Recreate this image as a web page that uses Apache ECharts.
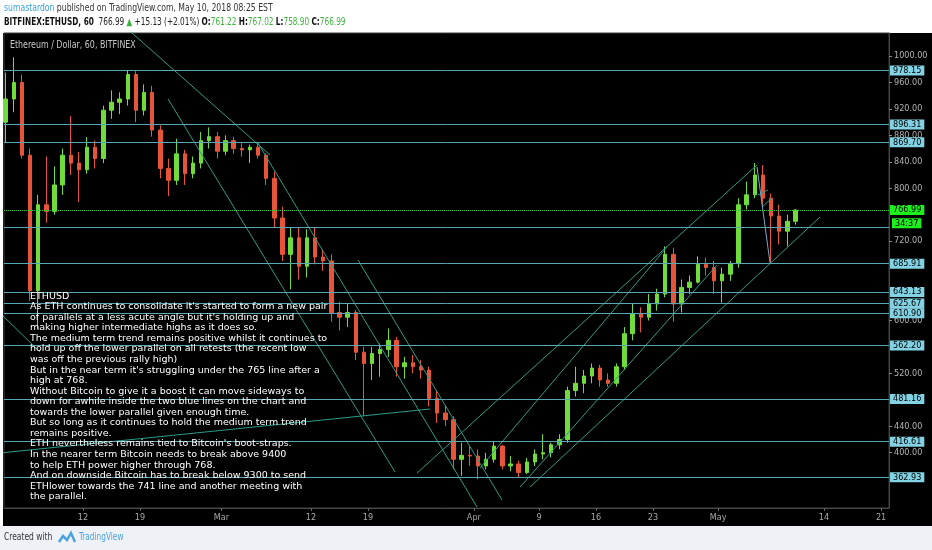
<!DOCTYPE html>
<html>
<head>
<meta charset="utf-8">
<title>Ethereum / Dollar, 60, BITFINEX</title>
<script src="https://cdn.jsdelivr.net/npm/echarts@6.0.0/dist/echarts.min.js"></script>
<style>
  html, body { margin: 0; padding: 0; background: #fff; }
  #chart { width: 932px; height: 550px; }
</style>
</head>
<body>
<div id="chart"></div>
<script>
// daily candles (Feb 2 - May 10 2018)
const dates = [
  '2018-02-02','2018-02-03','2018-02-04','2018-02-05','2018-02-06','2018-02-07','2018-02-08','2018-02-09','2018-02-10',
  '2018-02-11','2018-02-12','2018-02-13','2018-02-14','2018-02-15','2018-02-16','2018-02-17','2018-02-18','2018-02-19',
  '2018-02-20','2018-02-21','2018-02-22','2018-02-23','2018-02-24','2018-02-25','2018-02-26','2018-02-27','2018-02-28',
  '2018-03-01','2018-03-02','2018-03-03','2018-03-04','2018-03-05','2018-03-06','2018-03-07','2018-03-08','2018-03-09',
  '2018-03-10','2018-03-11','2018-03-12','2018-03-13','2018-03-14','2018-03-15','2018-03-16','2018-03-17','2018-03-18',
  '2018-03-19','2018-03-20','2018-03-21','2018-03-22','2018-03-23','2018-03-24','2018-03-25','2018-03-26','2018-03-27',
  '2018-03-28','2018-03-29','2018-03-30','2018-03-31',
  '2018-04-01','2018-04-02','2018-04-03','2018-04-04','2018-04-05','2018-04-06','2018-04-07','2018-04-08','2018-04-09',
  '2018-04-10','2018-04-11','2018-04-12','2018-04-13','2018-04-14','2018-04-15','2018-04-16','2018-04-17','2018-04-18',
  '2018-04-19','2018-04-20','2018-04-21','2018-04-22','2018-04-23','2018-04-24','2018-04-25','2018-04-26','2018-04-27',
  '2018-04-28','2018-04-29','2018-04-30',
  '2018-05-01','2018-05-02','2018-05-03','2018-05-04','2018-05-05','2018-05-06','2018-05-07','2018-05-08','2018-05-09',
  '2018-05-10'
];
const opens = [
  900,935,960,850,645,775,765,805,850,838,828,862,845,918,930,935,972,918,945,888,830,812,852,822,838,872,878,
  856,872,860,858,862,850,815,755,700,725,682,725,696,690,612,605,612,552,535,550,556,570,530,536,530,525,482,460,450,390,396,
  395,380,390,410,380,383,370,386,398,400,412,420,494,505,516,528,510,505,530,580,610,605,625,640,700,625,650,658,685,680,
  660,670,686,775,790,820,785,758,735,750
];
const highs = [
  975,998,972,860,790,848,833,860,909,855,877,872,925,948,945,978,977,957,955,895,845,875,858,848,885,892,885,
  880,878,868,866,870,853,825,772,740,741,738,740,708,700,628,625,616,560,560,565,588,575,545,548,540,530,495,472,455,415,410,
  405,400,418,412,395,388,392,405,428,415,428,500,530,525,535,533,520,535,590,625,620,640,648,712,710,662,668,697,695,690,
  680,690,785,810,838,835,792,775,760,768
];
const lows = [
  869,915,845,630,588,748,760,790,820,779,822,830,838,905,912,925,900,910,878,815,788,805,805,815,830,860,845,
  850,852,848,838,845,805,740,690,647,662,665,685,675,598,585,590,540,455,510,515,545,515,512,520,512,470,445,440,375,365,380,
  360,375,385,375,372,363,368,380,390,393,405,415,485,490,505,500,500,500,525,570,582,600,615,635,598,612,640,656,668,640,
  627,660,680,768,785,770,688,715,712,745
];
const closes = [
  935,960,850,645,775,765,805,850,838,828,862,845,918,930,935,972,918,945,888,830,812,852,822,838,872,878,856,
  872,860,858,862,850,815,755,700,725,682,725,696,690,612,605,612,552,535,550,556,570,530,536,530,525,482,460,450,390,396,395,
  380,390,410,380,383,370,386,398,400,412,420,494,505,516,528,510,505,530,580,610,605,625,640,700,625,650,658,685,680,660,
  670,686,775,790,820,785,758,735,750,766.99
];

// horizontal levels drawn on the chart
const levels = [978.15, 896.31, 869.70, 685.91, 643.13, 625.67, 610.90, 562.20, 481.16, 416.61, 362.93];
const level741 = 741;
const lastPrice = 766.99;
const countdown = '34:37';

// header quote
const quoteChange = '+15.13 (+2.01%)';
const quoteOHLC = ['761.22', '767.02', '758.90', '766.99'];

// price scale labels left visible between the level tags
const priceTicks = [400, 440, 520, 600, 720, 800, 840, 880, 920, 960, 1000];
const priceMin = 316.4;
const priceMax = 1034.8;

// date scale
const dateTicks = ['2018-02-12 00:00','2018-02-19 00:00','2018-03-01 00:00','2018-03-12 00:00','2018-03-19 00:00',
  '2018-04-01 00:00','2018-04-09 00:00','2018-04-16 00:00','2018-04-23 00:00','2018-05-01 00:00','2018-05-14 00:00',
  '2018-05-21 00:00'];
const dateTickLabels = ['12', '19', 'Mar', '12', '19', 'Apr', '9', '16', '23', 'May', '14', '21'];
const dateMin = '2018-02-02 07:10';
const dateMax = '2018-05-21 23:30';

// drawn trendlines: [start time, start price, end time, end price]
const trendlines = [
  ['2018-02-18 00:29', 1034.8, '2018-03-06 23:02', 850.3],
  ['2018-03-05 11:45', 868.4, '2018-04-01 09:22', 317.9],
  ['2018-02-22 10:34', 935.0, '2018-03-22 07:41', 370.8],
  ['2018-03-17 18:29', 691.5, '2018-04-04 11:02', 328.5],
  ['2018-02-01 19:26', 399.6, '2018-03-26 14:38', 466.1],
  ['2018-02-01 19:26', 611.3, '2018-02-06 17:17', 552.3],
  ['2018-03-25 00:29', 369.3, '2018-05-05 18:29', 835.2],
  ['2018-04-01 18:00', 376.9, '2018-04-24 17:17', 711.1],
  ['2018-04-06 16:05', 348.1, '2018-04-30 20:38', 683.9],
  ['2018-04-07 21:22', 348.1, '2018-05-13 12:14', 756.5],
  ['2018-05-05 21:22', 789.8, '2018-05-07 02:53', 797.4],
  ['2018-05-06 09:07', 771.6, '2018-05-07 14:38', 785.2]
];
// swing from the May high to the retest low
const swingLines = [
  ['2018-05-05 18:29', 832.1, '2018-05-07 08:53', 686.9]
];

const noteLines = [
  'ETHUSD',
  "As ETH continues to consolidate it's started to form a new pair",
  "of parallels at a less acute angle but it's holding up and",
  'making higher intermediate highs as it does so.',
  'The medium term trend remains positive whilst it continues to',
  'hold up off the lower parallel on all retests (the recent low',
  'was off the previous rally high)',
  "But in the near term it's struggling under the 765 line after a",
  'high at 768.',
  'Without Bitcoin to give it a boost it can move sideways to',
  'down for awhile inside the two blue lines on the chart and',
  'towards the lower parallel given enough time.',
  'But so long as it continues to hold the medium term trend',
  'remains positive.',
  "ETH nevertheless remains tied to Bitcoin's boot-straps.",
  'In the nearer term Bitcoin needs to break above 9400',
  'to help ETH power higher through 768.',
  'And on downside Bitcoin has to break below 9300 to send',
  'ETHlower towards the 741 line and another meeting with',
  'the parallel.'
];

const NARROW = '"Liberation Sans Narrow", "DejaVu Sans Condensed", "Liberation Sans", sans-serif';
const LEVEL_COLOR = '#5aa7b4';
const TREND_COLOR = '#2b9c88';

function toTime(s) {
  const parts = s.split(' ');
  const ymd = parts[0].split('-').map(Number);
  const hm = parts[1] ? parts[1].split(':').map(Number) : [12, 0];
  return Date.UTC(ymd[0], ymd[1] - 1, ymd[2], hm[0], hm[1]);
}

const tickTimes = dateTicks.map(toTime);
const candles = dates.map((d, i) => [toTime(d), opens[i], closes[i], lows[i], highs[i]]);

function levelTag(bg) {
  return {
    show: true,
    position: 'end',
    distance: 1,
    backgroundColor: bg,
    color: '#000',
    fontSize: 9,
    lineHeight: 9,
    fontFamily: NARROW,
    padding: [1, 3, 0, 3]
  };
}

const levelMarks = levels.map(v => ({
  yAxis: v,
  lineStyle: { color: LEVEL_COLOR, width: 1, type: 'solid' },
  label: Object.assign(levelTag('#82d2e4'), { formatter: v.toFixed(2) })
}));
levelMarks.push({
  yAxis: level741,
  lineStyle: { color: LEVEL_COLOR, width: 1, type: 'solid' },
  label: Object.assign(levelTag('#1ef01e'), { formatter: countdown, offset: [2, -4] })
});
levelMarks.push({
  yAxis: lastPrice,
  lineStyle: { color: '#2fd02f', width: 1, type: 'dotted' },
  label: Object.assign(levelTag('#1ef01e'), { formatter: lastPrice.toFixed(2) })
});

function lineSeries(list, color) {
  return list.map(l => ({
    type: 'line',
    data: [[toTime(l[0]), l[1]], [toTime(l[2]), l[3]]],
    showSymbol: false,
    symbol: 'none',
    clip: true,
    silent: true,
    z: 4,
    lineStyle: { color: color, width: 1 }
  }));
}

const chart = echarts.init(document.getElementById('chart'));
chart.setOption({
  animation: false,
  backgroundColor: '#ffffff',
  grid: { left: 4, right: 43, top: 33, bottom: 42, show: true, borderColor: '#3c3c3c', borderWidth: 1 },
  xAxis: {
    type: 'value',
    min: toTime(dateMin),
    max: toTime(dateMax),
    splitLine: { show: false },
    axisLine: { show: true, lineStyle: { color: '#4a4a4a' } },
    axisTick: { show: true, customValues: tickTimes, length: 3, lineStyle: { color: '#666' } },
    axisLabel: {
      customValues: tickTimes,
      formatter: v => dateTickLabels[tickTimes.indexOf(v)] || '',
      color: '#a8a8a8',
      fontSize: 9,
      fontFamily: NARROW,
      margin: 5
    }
  },
  yAxis: {
    type: 'value',
    position: 'right',
    min: priceMin,
    max: priceMax,
    splitLine: { show: false },
    axisLine: { show: true, lineStyle: { color: '#4a4a4a' } },
    axisTick: { show: true, customValues: priceTicks, length: 3, lineStyle: { color: '#888' } },
    axisLabel: {
      customValues: priceTicks,
      formatter: v => v.toFixed(2),
      color: '#b4b4b4',
      fontSize: 9,
      fontFamily: NARROW,
      margin: 5
    }
  },
  series: [
    {
      type: 'candlestick',
      data: candles,
      barWidth: 4,
      z: 2,
      itemStyle: {
        color: '#6fdc3c',
        color0: '#e6553a',
        borderColor: '#6fdc3c',
        borderColor0: '#e6553a',
        borderWidth: 1
      }
    },
    {
      type: 'line',
      data: [],
      z: 3,
      markLine: {
        symbol: 'none',
        silent: true,
        animation: false,
        data: levelMarks
      }
    }
  ].concat(lineSeries(trendlines, TREND_COLOR), lineSeries(swingLines, '#7aa8c8')),
  graphic: [
    { type: 'rect', z: -10, silent: true, shape: { x: 3, y: 33, width: 929, height: 493 }, style: { fill: '#000' } },
    { type: 'rect', z: -10, silent: true, shape: { x: 0, y: 526, width: 932, height: 24 }, style: { fill: '#eef2f6' } },
    {
      type: 'text', x: 4, y: 3, scaleX: 0.857, silent: true,
      style: {
        text: '{u|sumastardon} published on TradingView.com, May 10, 2018 08:25 EST',
        fill: '#333', fontSize: 10, fontFamily: NARROW, verticalAlign: 'top',
        rich: { u: { fill: '#3a9fd8', fontSize: 10, fontFamily: NARROW } }
      }
    },
    {
      type: 'text', x: 4, y: 17, scaleX: 0.816, silent: true,
      style: {
        text: '{b|BITFINEX:ETHUSD, 60}  ' + lastPrice.toFixed(2) + ' {g|\u25B2} ' + quoteChange +
          ' {b|O:}{g|' + quoteOHLC[0] + '} {b|H:}{g|' + quoteOHLC[1] + '} {b|L:}{g|' + quoteOHLC[2] +
          '} {b|C:}{g|' + quoteOHLC[3] + '}',
        fill: '#222', fontSize: 10, fontFamily: NARROW, verticalAlign: 'top',
        rich: {
          b: { fill: '#111', fontWeight: 'bold', fontSize: 10, fontFamily: NARROW },
          g: { fill: '#3cb43c', fontSize: 10, fontFamily: NARROW }
        }
      }
    },
    {
      type: 'text', x: 10, y: 40, scaleX: 0.88, silent: true,
      style: { text: 'Ethereum / Dollar, 60, BITFINEX', fill: '#c8c8c8', fontSize: 10, fontFamily: NARROW, verticalAlign: 'top' }
    },
    {
      type: 'text', x: 30, y: 291, z: 10, silent: true,
      style: {
        text: noteLines.join('\n'), fill: '#ffffff', fontSize: 9.5, lineHeight: 10.55,
        fontFamily: '"DejaVu Sans", Verdana, sans-serif', verticalAlign: 'top'
      }
    },
    {
      type: 'text', x: 4, y: 532, scaleX: 0.84, silent: true,
      style: { text: 'Created with', fill: '#333', fontSize: 10, fontFamily: NARROW, verticalAlign: 'top' }
    },
    {
      type: 'polyline', silent: true,
      shape: { points: [[59, 542], [63, 536], [67, 540], [71, 533], [75, 542]] },
      style: { stroke: '#4aa3dd', lineWidth: 2.5, fill: 'none' }
    },
    {
      type: 'text', x: 79, y: 532, scaleX: 0.82, silent: true,
      style: { text: 'TradingView', fill: '#4aa3dd', fontSize: 10, fontFamily: NARROW, verticalAlign: 'top' }
    }
  ]
});
</script>
</body>
</html>
